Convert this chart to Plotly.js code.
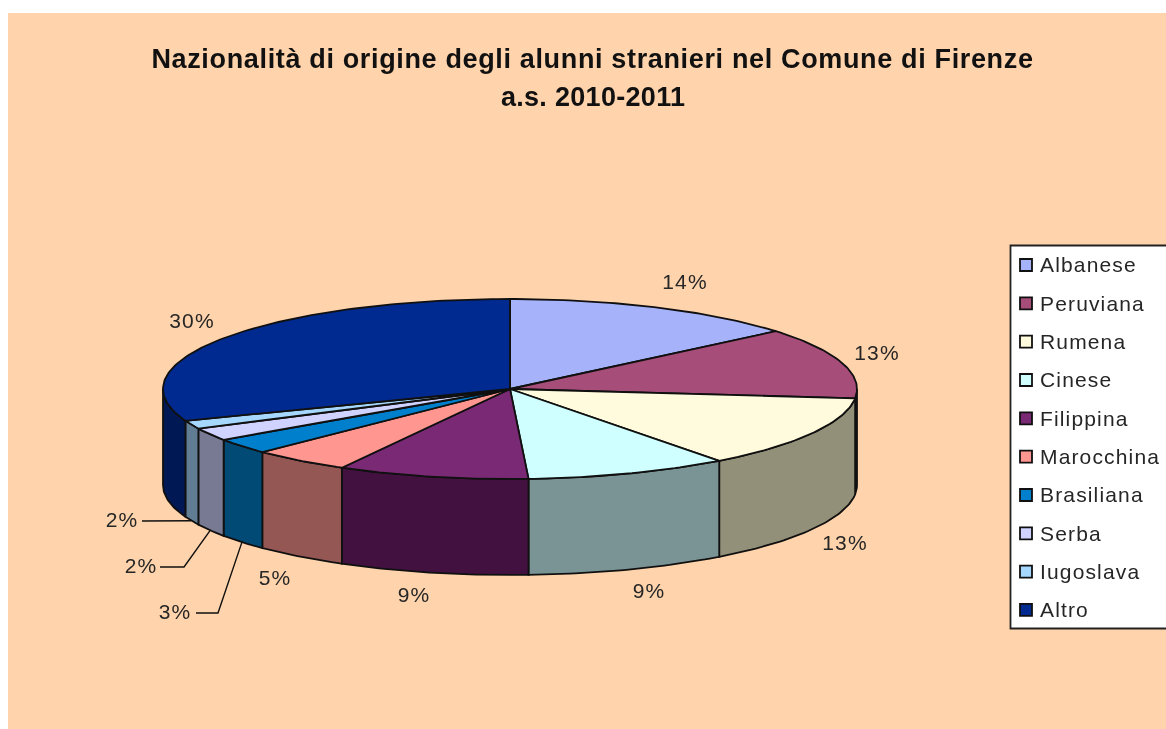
<!DOCTYPE html>
<html>
<head>
<meta charset="utf-8">
<script src="https://cdn.plot.ly/plotly-3.0.1.min.js"></script>
<style>
html,body{margin:0;padding:0;background:#fff;overflow:hidden}
#chart{width:1166px;height:729px;filter:blur(0.45px)}
#chart .gtitle{letter-spacing:0.65px}
#chart .annotation-text{letter-spacing:0.3px}
#chart .textpoint text{letter-spacing:1.15px}
</style>
</head>
<body>
<div id="chart"></div>
<script>
// ---- data ----
const categories = ['Albanese','Peruviana','Rumena','Cinese','Filippina','Marocchina','Brasiliana','Serba','Iugoslava','Altro'];
const shares = [13.9,12.75,13.05,9.45,8.9,4.6,2.8,2.3,1.5,30.75];   // slice widths as drawn
const percentLabels = ['14%','13%','13%','9%','9%','5%','3%','2%','2%','30%']; // labels as printed
const titleLine1 = 'Nazionalità di origine degli alunni stranieri nel Comune di Firenze';
const titleLine2 = 'a.s. 2010-2011';

// ---- styles ----
const topColors  = ['#A6B3FB','#A64D79','#FFFBDC','#CFFFFF','#7A2A75','#FF9690','#0080CC','#D0D3FF','#A6D8FF','#002A8F'];
const sideColors = ['#5F668F','#53263C','#939079','#7A9394','#42113F','#955754','#004A75','#787A93','#607D93','#001854'];
const edge = '#101010';
const textColor = '#262626';
const font = 'Liberation Sans, Arial, sans-serif';

// ---- pie projection ----
const cx = 510, cy = 389, rx = 347, ry = 90, depth = 96;
const rim = (deg, drop) => {
  const t = deg * Math.PI / 180;
  return [cx + rx * Math.sin(t), cy - ry * Math.cos(t) + drop];
};
const total = shares.reduce((a, b) => a + b, 0);
let acc = 0;
const arcs = shares.map(v => { const a = acc; acc += v / total * 360; return [a, acc]; });
const sweep = (a, b, drop) => {
  const out = [];
  const n = Math.max(2, Math.ceil(Math.abs(b - a)));
  for (let i = 0; i <= n; i++) out.push(rim(a + (b - a) * i / n, drop));
  return out;
};
const poly = (pts, color, name) => ({
  type: 'scatter', mode: 'lines', x: pts.map(p => p[0]), y: pts.map(p => p[1]),
  fill: 'toself', fillcolor: color, line: {color: edge, width: 1.8},
  name, showlegend: false, hoverinfo: 'name'
});

const traces = [];
// outer walls: only the front half of the rim can be seen
arcs.forEach(([a, b], i) => {
  const s = Math.max(a, 90), e = Math.min(b, 270);
  if (e <= s) return;
  traces.push(poly([...sweep(s, e, 0), ...sweep(e, s, depth), rim(s, 0)], sideColors[i], categories[i]));
});
// top faces
arcs.forEach(([a, b], i) => {
  traces.push(poly([[cx, cy], ...sweep(a, b, 0), [cx, cy]], topColors[i], categories[i]));
});

// percentage labels (placement only)
const labelX = [685,877,845,649,414,275,175,141,122,192];
const labelY = [284,355,545,593,597,580,614,568,522,323];
traces.push({
  type: 'scatter', mode: 'text', x: labelX, y: labelY,
  text: percentLabels, textposition: 'middle center',
  textfont: {family: font, size: 21, color: textColor}, showlegend: false, hoverinfo: 'skip'
});

// leader lines for the three thin slices
const leaderSlices = [6, 7, 8];
const leaderStart = [[196,613],[160,567],[142,521]];
const leaderElbow = [[218,613],[184,567],[176,521]];
leaderSlices.forEach((idx, k) => {
  const mid = (arcs[idx][0] + arcs[idx][1]) / 2;
  const end = rim(mid, depth);
  traces.push({
    type: 'scatter', mode: 'lines',
    x: [leaderStart[k][0], leaderElbow[k][0], end[0]],
    y: [leaderStart[k][1], leaderElbow[k][1], end[1]],
    line: {color: edge, width: 1.4}, showlegend: false, hoverinfo: 'skip'
  });
});

// legend
const legendY = categories.map((c, i) => 265 + i * 38.33);
traces.push({
  type: 'scatter', mode: 'markers', x: categories.map(() => 1026), y: legendY,
  marker: {symbol: 'square', size: 12, color: topColors, line: {color: edge, width: 1.8}},
  showlegend: false, hoverinfo: 'skip'
});
traces.push({
  type: 'scatter', mode: 'text', x: categories.map(() => 1040), y: legendY.map(v => v + 2),
  text: categories, textposition: 'middle right',
  textfont: {family: font, size: 21, color: textColor}, showlegend: false, hoverinfo: 'skip'
});

const layout = {
  width: 1166, height: 729, autosize: false,
  margin: {l: 0, r: 0, t: 0, b: 0, autoexpand: false},
  paper_bgcolor: '#ffffff', plot_bgcolor: 'rgba(0,0,0,0)',
  showlegend: false,
  title: {
    text: '<b>' + titleLine1 + '</b>',
    x: 592.5 / 1166, xanchor: 'center', y: 1 - 59 / 729, yanchor: 'middle',
    font: {family: font, size: 27, color: '#111111'}
  },
  annotations: [{
    xref: 'paper', yref: 'paper', x: 593 / 1166, y: 1 - 97 / 729, xanchor: 'center', yanchor: 'middle',
    text: '<b>' + titleLine2 + '</b>', showarrow: false,
    font: {family: font, size: 27, color: '#111111'}
  }],
  xaxis: {range: [0, 1166], visible: false, fixedrange: true},
  yaxis: {range: [729, 0], visible: false, fixedrange: true},
  shapes: [
    {type: 'rect', xref: 'x', yref: 'y', x0: 8, x1: 1170, y0: 13, y1: 733, fillcolor: '#FFD3AB', line: {width: 0}, layer: 'below'},
    {type: 'rect', xref: 'x', yref: 'y', x0: 1010.5, x1: 1172, y0: 245.5, y1: 628.5, fillcolor: '#ffffff', line: {color: '#222222', width: 1.8}, layer: 'below'}
  ]
};
Plotly.newPlot('chart', traces, layout, {displayModeBar: false, staticPlot: true});
</script>
</body>
</html>
